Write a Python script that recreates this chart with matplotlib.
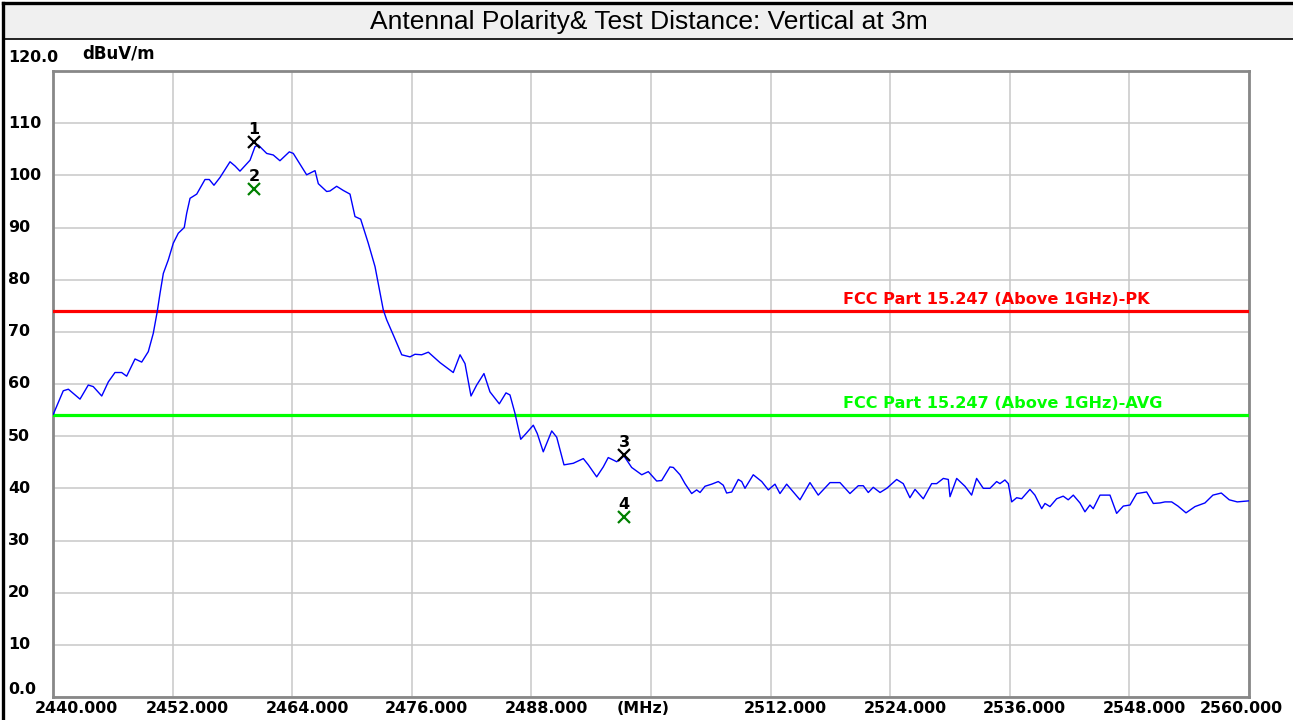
import matplotlib
matplotlib.use("Agg")
import matplotlib.pyplot as plt
import matplotlib.transforms as mtransforms
from matplotlib.patches import Rectangle
from matplotlib.lines import Line2D

plt.rcParams['font.family'] = ['DejaVu Sans']

# 频谱扫描数据 (MHz, dBuV/m)
freq = [2440.03, 2441.03, 2441.54, 2442.71, 2443.54, 2444.04, 2444.89, 2445.55, 2446.22, 2446.89,
        2447.39, 2448.23, 2448.90, 2449.56, 2450.06, 2450.46, 2450.74, 2451.07, 2451.57, 2452.07,
        2452.57, 2453.17, 2453.41, 2453.75, 2454.42, 2455.25, 2455.68, 2456.15, 2456.76, 2457.76,
        2458.26, 2458.76, 2459.77, 2460.27, 2460.60, 2461.44, 2462.10, 2462.77, 2463.71, 2464.11,
        2465.45, 2466.29, 2466.62, 2467.46, 2467.79, 2468.46, 2469.13, 2469.80, 2470.30, 2470.87,
        2471.63, 2472.31, 2473.14, 2473.48, 2474.21, 2474.99, 2475.82, 2476.32, 2476.99, 2477.66,
        2478.83, 2480.16, 2480.84, 2481.34, 2481.94, 2482.51, 2483.24, 2483.84, 2484.78, 2485.45,
        2485.85, 2486.35, 2486.93, 2487.46, 2488.19, 2488.59, 2489.19, 2490.04, 2490.54, 2491.27,
        2492.20, 2493.21, 2493.71, 2494.55, 2495.21, 2495.71, 2496.56, 2497.29, 2498.06, 2499.07,
        2499.73, 2500.57, 2501.07, 2501.90, 2502.24, 2502.91, 2503.41, 2504.08, 2504.58, 2504.92,
        2505.42, 2506.09, 2506.75, 2507.25, 2507.59, 2508.10, 2508.76, 2509.10, 2509.43, 2510.26,
        2511.11, 2511.77, 2512.44, 2512.94, 2513.61, 2514.95, 2515.95, 2516.78, 2517.96, 2518.96,
        2519.96, 2520.80, 2521.30, 2521.80, 2522.30, 2522.98, 2523.65, 2524.65, 2525.31, 2525.98,
        2526.49, 2527.32, 2528.16, 2528.66, 2529.33, 2529.83, 2530.00, 2530.67, 2531.50, 2532.17,
        2532.67, 2533.34, 2534.01, 2534.68, 2535.01, 2535.51, 2535.85, 2536.19, 2536.69, 2537.19,
        2538.02, 2538.52, 2539.20, 2539.53, 2540.03, 2540.70, 2541.36, 2541.86, 2542.37, 2543.04,
        2543.54, 2544.04, 2544.37, 2545.05, 2546.05, 2546.72, 2547.39, 2548.06, 2548.73, 2549.73,
        2550.40, 2551.07, 2551.57, 2552.24, 2552.87, 2553.68, 2554.58, 2555.58, 2556.38, 2557.22,
        2558.02, 2558.82, 2560.00]
level = [54.2, 58.7, 59.0, 57.1, 59.8, 59.5, 57.7, 60.4, 62.2, 62.2,
         61.5, 64.8, 64.2, 66.2, 69.7, 73.9, 77.4, 81.2, 83.8, 87.0,
         88.9, 90.0, 92.7, 95.6, 96.4, 99.2, 99.2, 98.1, 99.6, 102.6,
         101.8, 100.8, 102.9, 105.5, 105.8, 104.2, 103.9, 102.8, 104.5, 104.2,
         100.1, 100.9, 98.4, 96.9, 97.0, 97.9, 97.1, 96.4, 92.1, 91.6,
         87.0, 82.5, 74.2, 72.3, 69.1, 65.6, 65.2, 65.7, 65.6, 66.1,
         64.1, 62.2, 65.6, 63.9, 57.7, 59.8, 62.0, 58.5, 56.2, 58.3,
         57.9, 54.4, 49.4, 50.5, 52.1, 50.5, 47.0, 51.0, 49.8, 44.5,
         44.8, 45.7, 44.5, 42.2, 44.1, 45.9, 45.1, 46.2, 44.0, 42.6,
         43.2, 41.4, 41.5, 44.1, 44.0, 42.6, 40.9, 39.0, 39.7, 39.2,
         40.4, 40.8, 41.3, 40.6, 39.1, 39.3, 41.7, 41.3, 40.0, 42.6,
         41.3, 39.7, 40.8, 39.0, 40.8, 37.8, 41.1, 38.7, 41.1, 41.1,
         39.0, 40.5, 40.5, 39.2, 40.2, 39.2, 40.0, 41.7, 40.9, 38.2,
         39.8, 38.0, 40.9, 40.9, 41.9, 41.7, 38.4, 41.9, 40.4, 38.7,
         41.9, 40.0, 40.0, 41.3, 40.9, 41.6, 40.9, 37.4, 38.2, 38.0,
         39.8, 38.7, 36.1, 37.1, 36.5, 38.0, 38.5, 37.8, 38.7, 37.2,
         35.5, 36.8, 36.1, 38.7, 38.7, 35.2, 36.6, 36.8, 39.0, 39.3,
         37.1, 37.2, 37.4, 37.4, 36.6, 35.3, 36.5, 37.2, 38.7, 39.1,
         37.8, 37.4, 37.6]

# 限值线
limit_pk = 74.0
limit_avg = 54.0
limit_pk_label = "FCC Part 15.247 (Above 1GHz)-PK"
limit_avg_label = "FCC Part 15.247 (Above 1GHz)-AVG"

# 标记点
mk_id = ["1", "2", "3", "4"]
mk_freq = [2460.17, 2460.17, 2497.29, 2497.29]
mk_level = [106.4, 97.4, 46.4, 34.5]
mk_color = ["black", "#008000", "black", "#008000"]

x_ticks = [2440, 2452, 2464, 2476, 2488, 2500, 2512, 2524, 2536, 2548, 2560]
x_labels = ["2440.000", "2452.000", "2464.000", "2476.000", "2488.000", "(MHz)",
            "2512.000", "2524.000", "2536.000", "2548.000", "2560.000"]
y_ticks = [0, 10, 20, 30, 40, 50, 60, 70, 80, 90, 100, 110, 120]
y_labels = ["0.0", "10", "20", "30", "40", "50", "60", "70", "80", "90", "100", "110", "120.0"]

title = "Antennal Polarity& Test Distance: Vertical at 3m"

W, H = 1293, 720
fig = plt.figure(figsize=(W / 100, H / 100), dpi=100)
fig.patch.set_facecolor("white")

# 标题框
fig.add_artist(Rectangle((3 / W, 1 - 39 / H), 1 - 3 / W, 36 / H, transform=fig.transFigure,
                         facecolor="#F0F0F0", edgecolor="none"))
fig.add_artist(Line2D([3 / W, 1], [1 - 39 / H, 1 - 39 / H], transform=fig.transFigure,
                      color="black", lw=1.2))
fig.add_artist(Line2D([3 / W, 1], [1 - 3 / H, 1 - 3 / H], transform=fig.transFigure,
                      color="black", lw=2.4))
fig.add_artist(Line2D([3 / W, 3 / W], [0, 1 - 3 / H], transform=fig.transFigure,
                      color="black", lw=2.4))
fig.text(649 / W, 1 - 22 / H, title, ha="center", va="center", fontsize=19,
         family="Liberation Sans")

ax = fig.add_axes([53 / W, 1 - 697 / H, (1249 - 53) / W, (697 - 71) / H])
ax.set_xlim(2440, 2560)
ax.set_ylim(0, 120)
ax.set_xticks(x_ticks)
ax.set_yticks(y_ticks)
ax.tick_params(length=0, labelbottom=False, labelleft=False)
ax.grid(True, color="#C8C8C8", lw=1.1)
ax.set_axisbelow(True)
for s in ax.spines.values():
    s.set_color("#888888")
    s.set_linewidth(2.0)

ax.axhline(limit_pk, color="#FF0000", lw=2.3, zorder=3)
ax.axhline(limit_avg, color="#00FF00", lw=2.3, zorder=3)
ax.plot(freq, level, color="#0000FF", lw=1.0, zorder=4)

pt = 72 / 100  # 像素 -> 磅
off = lambda dx, dy: mtransforms.offset_copy(ax.transData, fig=fig, x=dx * pt, y=dy * pt, units="points")
ax.text(2519.3, limit_pk, limit_pk_label, color="#FF0000", fontsize=11.6, fontweight="bold",
        ha="left", va="bottom", transform=off(0, 4))
ax.text(2519.3, limit_avg, limit_avg_label, color="#00FF00", fontsize=11.6, fontweight="bold",
        ha="left", va="bottom", transform=off(0, 4))

for i in range(len(mk_id)):
    ax.plot(mk_freq[i], mk_level[i], marker="x", ms=9, mew=1.6, color=mk_color[i], zorder=5)
    ax.text(mk_freq[i], mk_level[i], mk_id[i], ha="center", va="bottom", fontsize=11.5,
            fontweight="bold", color="black", transform=off(0, 5), zorder=6)

# 坐标轴标签 (手动放置, 模仿原软件)
xt = ax.get_xaxis_transform()
for i, (v, lab) in enumerate(zip(x_ticks, x_labels)):
    dx = 15
    if i == 0:
        dx = 23
    elif i == len(x_ticks) - 1:
        dx = -8
    elif lab == "(MHz)":
        dx = -8
    ax.text(v, 0, lab, ha="center", va="top", fontsize=11.4, fontweight="bold",
            transform=xt + mtransforms.ScaledTranslation(dx / 100, -4 / 100, fig.dpi_scale_trans),
            clip_on=False)

yt = ax.get_yaxis_transform()
for v, lab in zip(y_ticks, y_labels):
    dy = 0
    if v == 120:
        dy = 14
    elif v == 0:
        dy = 7
    ax.text(-45 / 1196, v, lab, ha="left", va="center", fontsize=11.4, fontweight="bold",
            transform=yt + mtransforms.ScaledTranslation(0, dy / 100, fig.dpi_scale_trans),
            clip_on=False)

ax.text(82 / W, 1 - 53 / H, "dBuV/m", ha="left", va="center", fontsize=12, fontweight="bold",
        transform=fig.transFigure)

fig.savefig("out.png", dpi=100)
